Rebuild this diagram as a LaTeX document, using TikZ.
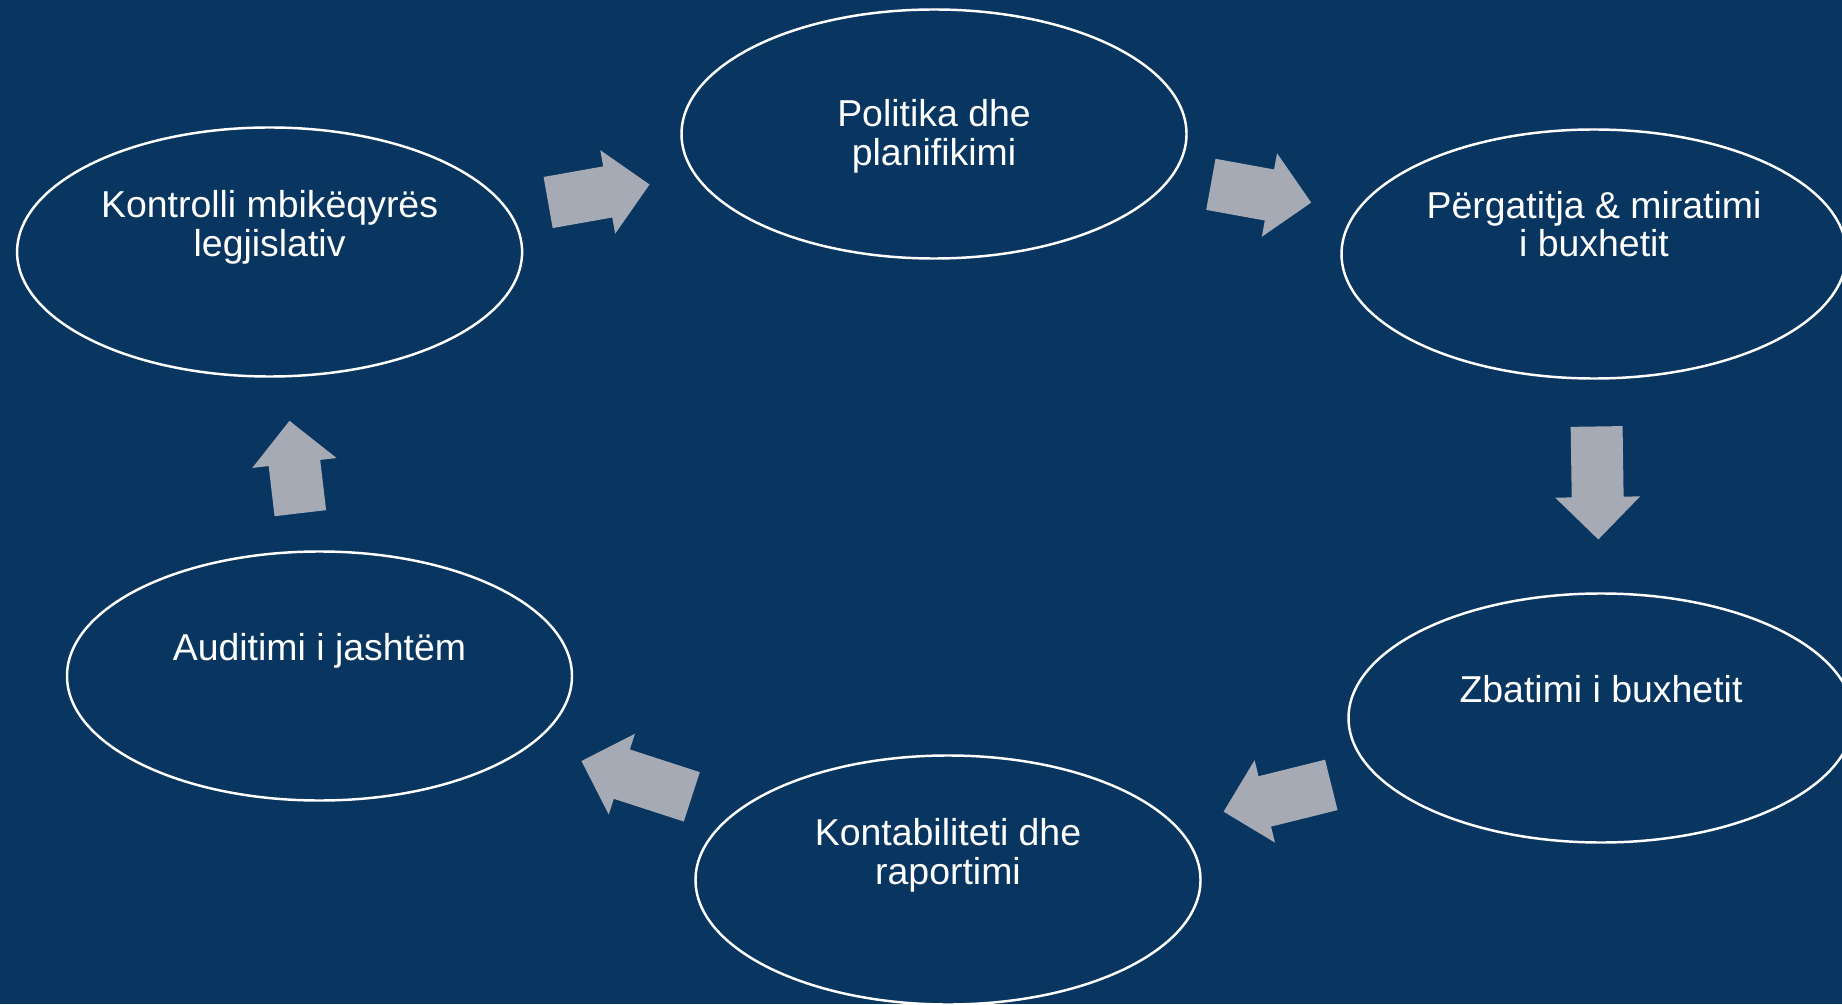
\documentclass[tikz,border=0pt]{standalone}
\usepackage{fontspec}
\setmainfont{Liberation Sans}
\usetikzlibrary{shapes.geometric,shapes.arrows}
\definecolor{bgBlue}{RGB}{9,54,96}
\definecolor{arrowGray}{RGB}{166,170,180}

\begin{document}
\begin{tikzpicture}[
    every node/.style={align=center},
    stage/.style={ellipse, draw=white, line width=0.7pt, minimum width=5.05cm, minimum height=2.49cm, inner sep=0pt},
    stageText/.style={text=white, inner sep=0pt, font=\fontsize{10.65}{11}\selectfont},
    flow/.style={single arrow, fill=arrowGray, draw=none, inner xsep=0pt, inner ysep=0.2525cm, single arrow head extend=0.165cm, midway, sloped, allow upside down, xshift=-1.6mm}
]

% Background
\fill[bgBlue] (0,0) rectangle (18.42,10.04);
\useasboundingbox (0,0) rectangle (18.42,10.04);
\clip (0,0) rectangle (18.42,10.04);

% Nodes
\node[stage] (pol) at (9.34, 8.70) {};
\node[stage] (per) at (15.94, 7.50) {};
\node[stage] (zba) at (16.01, 2.86) {};
\node[stage] (kon) at (9.48, 1.24) {};
\node[stage] (aud) at (3.195, 3.28) {};
\node[stage] (ktr) at (2.696, 7.52) {};

% Texts
\node[stageText] (polText) at ([yshift=-0.2mm]pol.center) {Politika dhe\\planifikimi};
\node[stageText] (perText) at ([yshift=3.0mm]per.center) {Përgatitja \& miratimi\\i buxhetit};
\node[stageText] (zbaText) at ([yshift=2.9mm]zba.center) {Zbatimi i buxhetit};
\node[stageText] (konText) at ([yshift=2.45mm]kon.center) {Kontabiliteti dhe\\raportimi};
\node[stageText] (audText) at ([yshift=2.55mm]aud.center) {Auditimi i jashtëm};
\node[stageText] (ktrText) at ([yshift=2.45mm]ktr.center) {Kontrolli mbikëqyrës\\legjislativ};

% Arrows
\path (ktr) -- node[flow, minimum height=1.03cm] (a1) {} (pol);
\path (pol) -- node[flow, minimum height=1.02cm] (a2) {} (per);
\path (per) -- node[flow, minimum height=1.13cm] (a3) {} (zba);
\path (zba) -- node[flow, minimum height=1.11cm] (a4) {} (kon);
\path (kon) -- node[flow, minimum height=1.16cm] (a5) {} (aud);
\path (aud) -- node[flow, minimum height=0.93cm] (a6) {} (ktr);

\end{tikzpicture}
\end{document}
